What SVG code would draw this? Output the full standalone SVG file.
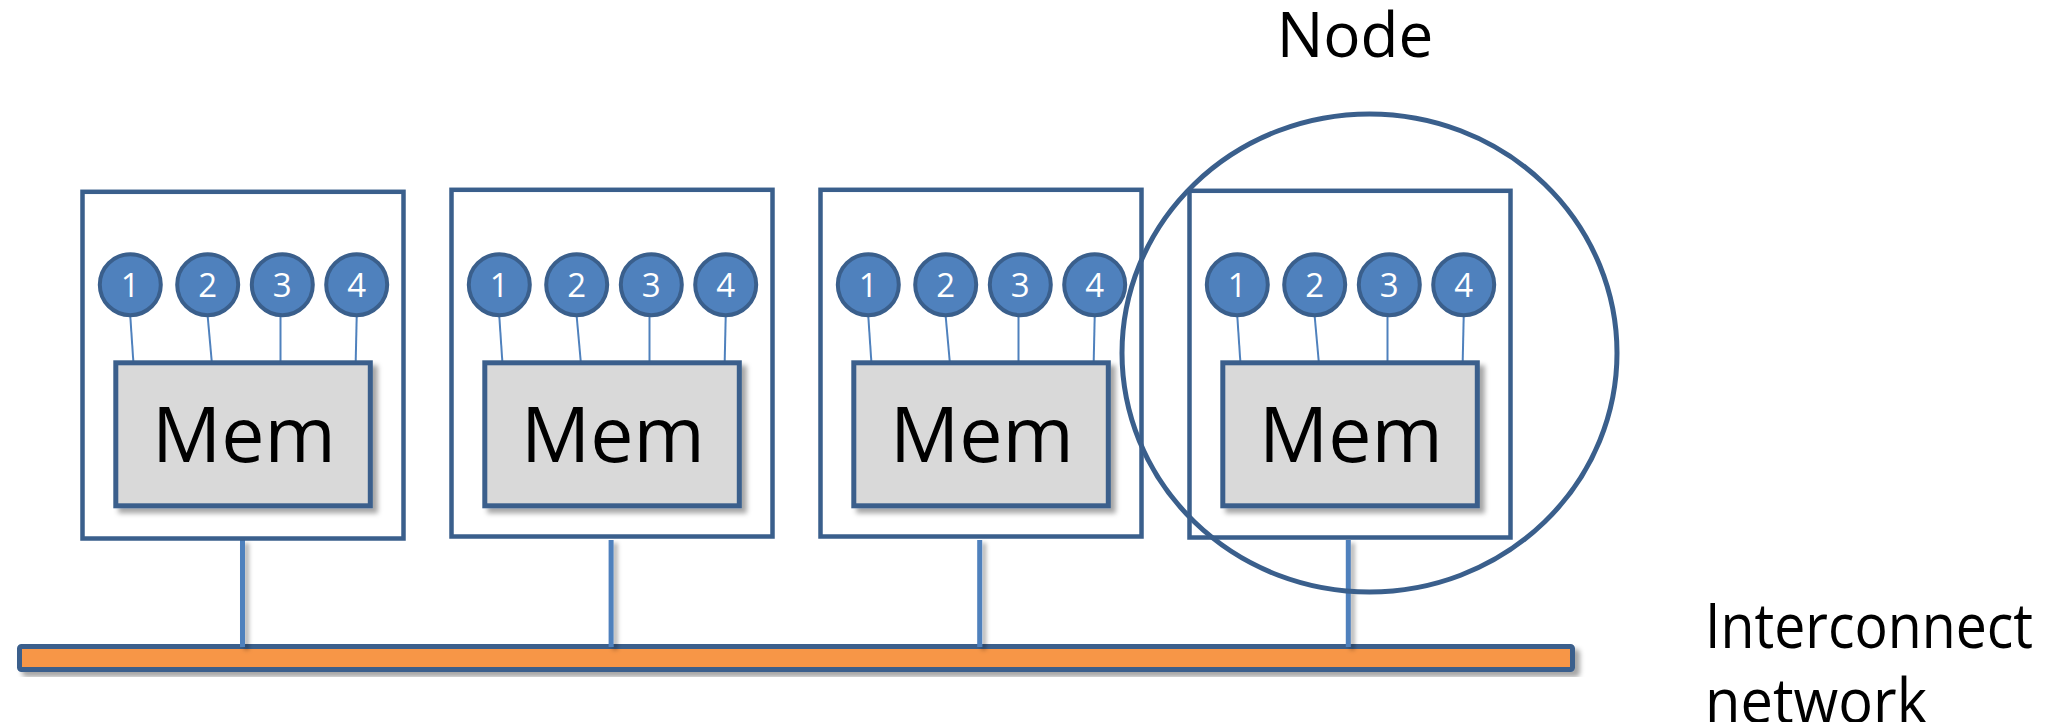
<svg xmlns="http://www.w3.org/2000/svg" width="2063" height="722" viewBox="0 0 2063 722">
<defs>
<style>
.box{fill:#fff;stroke:#3a5f8c;stroke-width:4.5}
.mem{fill:#d9d9d9;stroke:#3a5f8c;stroke-width:5}
.core{fill:#4f81bd;stroke:#3a5f8c;stroke-width:4}
.num{font-family:"Open Sans",sans-serif;font-size:33px;fill:#fff;text-anchor:middle}
.memt{font-family:"Open Sans",sans-serif;font-size:77px;fill:#000;text-anchor:middle}
.lbl{font-family:"Open Sans",sans-serif;font-size:62px;fill:#000}
.wire{stroke:#4f81bd;stroke-width:2;fill:none}
.bus{fill:#4f81bd}
.ring{fill:none;stroke:#3a5f8c;stroke-width:5}
.net{fill:#f79646;stroke:#3a5f8c;stroke-width:5}
</style>
<filter id="sh" x="-10%" y="-10%" width="130%" height="140%"><feDropShadow dx="5" dy="5" stdDeviation="2.5" flood-color="#000" flood-opacity="0.35"/></filter>
<filter id="shl" filterUnits="userSpaceOnUse" x="0" y="0" width="2063" height="722"><feDropShadow dx="4" dy="3" stdDeviation="2" flood-color="#000" flood-opacity="0.3"/></filter>
</defs>

<g id="interconnect">
<rect class="net" filter="url(#sh)" x="19.5" y="646.5" width="1553" height="23" rx="2"/>
</g>

<g id="connectors">
<rect class="bus" filter="url(#shl)" x="240" y="540" width="5" height="107"/>
<rect class="bus" filter="url(#shl)" x="608.6" y="540" width="5" height="107"/>
<rect class="bus" filter="url(#shl)" x="977.2" y="540" width="5" height="107"/>
<rect class="bus" filter="url(#shl)" x="1345.8" y="540" width="5" height="107"/>
</g>

<g id="node1">
<rect class="box" x="82.5" y="191.8" width="321" height="346.7"/>
<g class="wire"><line x1="130.3" y1="316.5" x2="133.3" y2="361"/><line x1="207.7" y1="316.5" x2="211.7" y2="361"/><line x1="280.5" y1="316.5" x2="280.5" y2="361"/><line x1="356.7" y1="316.5" x2="355.7" y2="361"/></g>
<rect class="mem" filter="url(#sh)" x="115.8" y="362.8" width="254.5" height="143"/>
<text class="memt" x="244" y="462">Mem</text>
<circle class="core" cx="130.3" cy="284.7" r="30.5"/><text class="num" x="130.3" y="297">1</text>
<circle class="core" cx="207.7" cy="284.7" r="30.5"/><text class="num" x="207.7" y="297">2</text>
<circle class="core" cx="282.3" cy="284.7" r="30.5"/><text class="num" x="282.3" y="297">3</text>
<circle class="core" cx="356.7" cy="284.7" r="30.5"/><text class="num" x="356.7" y="297">4</text>
</g>

<g id="node2">
<rect class="box" x="451.5" y="189.8" width="321" height="346.7"/>
<g class="wire"><line x1="499.3" y1="316.5" x2="502.3" y2="361"/><line x1="576.7" y1="316.5" x2="580.7" y2="361"/><line x1="649.5" y1="316.5" x2="649.5" y2="361"/><line x1="725.7" y1="316.5" x2="724.7" y2="361"/></g>
<rect class="mem" filter="url(#sh)" x="484.8" y="362.8" width="254.5" height="143"/>
<text class="memt" x="613" y="462">Mem</text>
<circle class="core" cx="499.3" cy="284.7" r="30.5"/><text class="num" x="499.3" y="297">1</text>
<circle class="core" cx="576.7" cy="284.7" r="30.5"/><text class="num" x="576.7" y="297">2</text>
<circle class="core" cx="651.3" cy="284.7" r="30.5"/><text class="num" x="651.3" y="297">3</text>
<circle class="core" cx="725.7" cy="284.7" r="30.5"/><text class="num" x="725.7" y="297">4</text>
</g>

<g id="node3">
<rect class="box" x="820.5" y="189.8" width="321" height="346.7"/>
<g class="wire"><line x1="868.3" y1="316.5" x2="871.3" y2="361"/><line x1="945.7" y1="316.5" x2="949.7" y2="361"/><line x1="1018.5" y1="316.5" x2="1018.5" y2="361"/><line x1="1094.7" y1="316.5" x2="1093.7" y2="361"/></g>
<rect class="mem" filter="url(#sh)" x="853.8" y="362.8" width="254.5" height="143"/>
<text class="memt" x="982" y="462">Mem</text>
<circle class="core" cx="868.3" cy="284.7" r="30.5"/><text class="num" x="868.3" y="297">1</text>
<circle class="core" cx="945.7" cy="284.7" r="30.5"/><text class="num" x="945.7" y="297">2</text>
<circle class="core" cx="1020.3" cy="284.7" r="30.5"/><text class="num" x="1020.3" y="297">3</text>
<circle class="core" cx="1094.7" cy="284.7" r="30.5"/><text class="num" x="1094.7" y="297">4</text>
</g>

<g id="node4">
<rect class="box" x="1189.5" y="190.8" width="321" height="346.7"/>
<g class="wire"><line x1="1237.3" y1="316.5" x2="1240.3" y2="361"/><line x1="1314.7" y1="316.5" x2="1318.7" y2="361"/><line x1="1387.5" y1="316.5" x2="1387.5" y2="361"/><line x1="1463.7" y1="316.5" x2="1462.7" y2="361"/></g>
<rect class="mem" filter="url(#sh)" x="1222.8" y="362.8" width="254.5" height="143"/>
<text class="memt" x="1351" y="462">Mem</text>
<circle class="core" cx="1237.3" cy="284.7" r="30.5"/><text class="num" x="1237.3" y="297">1</text>
<circle class="core" cx="1314.7" cy="284.7" r="30.5"/><text class="num" x="1314.7" y="297">2</text>
<circle class="core" cx="1389.3" cy="284.7" r="30.5"/><text class="num" x="1389.3" y="297">3</text>
<circle class="core" cx="1463.7" cy="284.7" r="30.5"/><text class="num" x="1463.7" y="297">4</text>
</g>

<g id="node-highlight">
<ellipse class="ring" cx="1369.5" cy="353" rx="247.5" ry="239"/>
<text class="lbl" x="1355" y="56.7" text-anchor="middle">Node</text>
</g>

<g id="network-label">
<text class="lbl" x="1705" y="648" textLength="328" lengthAdjust="spacingAndGlyphs">Interconnect</text>
<text class="lbl" x="1705" y="723" textLength="222" lengthAdjust="spacingAndGlyphs">network</text>
</g>
</svg>
